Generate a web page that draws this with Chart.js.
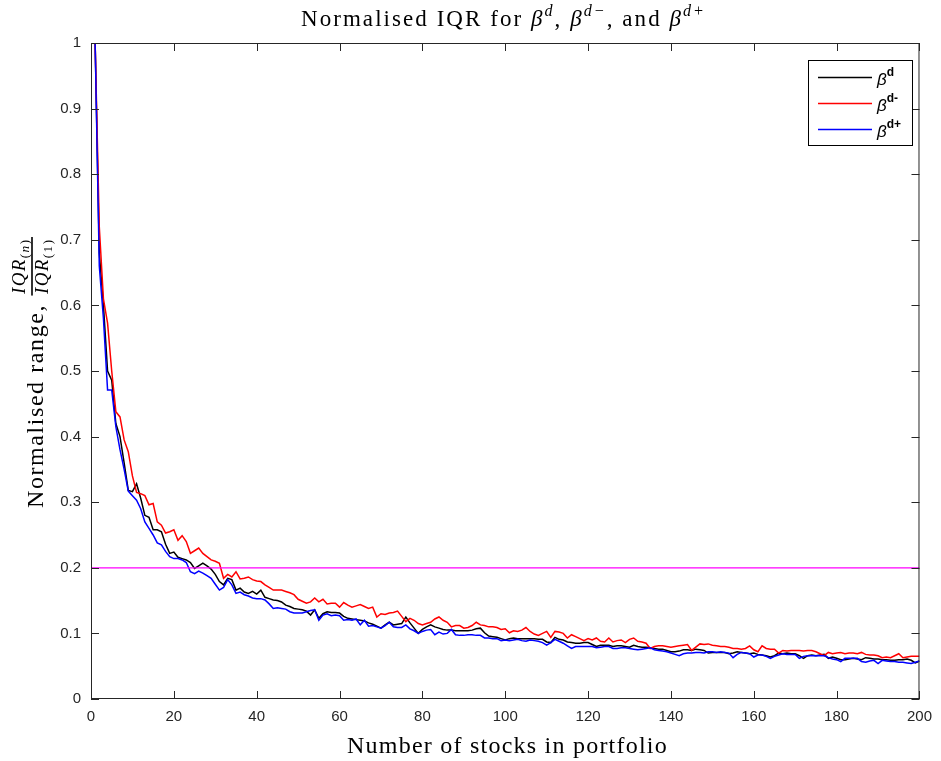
<!DOCTYPE html>
<html lang="en">
<head>
    <meta charset="UTF-8">
    <title>Normalised IQR</title>
    <script src="https://cdn.jsdelivr.net/npm/chart.js"></script>
    <style>
        html, body { margin: 0; padding: 0; background: #fff; }
        #wrap { width: 941px; height: 761px; }
    </style>
</head>
<body>
    <div id="wrap"><canvas id="iqrChart" width="941" height="761"></canvas></div>

    <script>
        // number of stocks in portfolio (x categories)
        const nStocks = Array.from({ length: 200 }, (_, i) => i + 1);

        // normalised IQR, beta^d (black)
        const betaD = [
            1.000,0.680,0.600,0.500,0.486,0.420,0.400,0.360,0.318,0.316,
            0.328,0.306,0.280,0.277,0.258,0.258,0.255,0.236,0.222,0.224,
            0.216,0.214,0.212,0.208,0.199,0.203,0.207,0.203,0.198,0.190,
            0.179,0.174,0.184,0.182,0.166,0.169,0.163,0.161,0.164,0.160,
            0.166,0.155,0.153,0.151,0.150,0.148,0.143,0.141,0.138,0.137,
            0.136,0.134,0.128,0.136,0.123,0.130,0.133,0.132,0.132,0.131,
            0.126,0.123,0.122,0.121,0.120,0.119,0.116,0.114,0.111,0.108,
            0.113,0.117,0.113,0.114,0.115,0.125,0.116,0.108,0.100,0.106,
            0.110,0.113,0.110,0.108,0.106,0.105,0.105,0.104,0.104,0.104,
            0.104,0.105,0.107,0.108,0.101,0.096,0.095,0.094,0.092,0.090,
            0.092,0.093,0.092,0.092,0.092,0.092,0.092,0.091,0.091,0.087,
            0.086,0.094,0.091,0.090,0.087,0.086,0.085,0.085,0.086,0.086,
            0.083,0.080,0.082,0.082,0.082,0.080,0.081,0.081,0.080,0.079,
            0.082,0.080,0.079,0.079,0.078,0.077,0.076,0.076,0.074,0.072,
            0.072,0.073,0.075,0.075,0.074,0.076,0.075,0.074,0.070,0.071,
            0.071,0.071,0.071,0.069,0.070,0.072,0.071,0.070,0.069,0.070,
            0.068,0.067,0.066,0.064,0.066,0.070,0.069,0.070,0.069,0.069,
            0.066,0.062,0.066,0.067,0.066,0.067,0.068,0.062,0.064,0.062,
            0.060,0.060,0.061,0.062,0.061,0.060,0.063,0.062,0.061,0.061,
            0.060,0.060,0.059,0.059,0.060,0.060,0.061,0.059,0.055,0.058
        ];

        // beta^d- (red)
        const betaDMinus = [
            1.000,0.720,0.610,0.573,0.500,0.438,0.430,0.395,0.377,0.340,
            0.315,0.313,0.310,0.296,0.298,0.270,0.265,0.253,0.255,0.258,
            0.242,0.249,0.240,0.222,0.226,0.230,0.222,0.217,0.212,0.210,
            0.207,0.184,0.190,0.186,0.194,0.183,0.184,0.186,0.182,0.180,
            0.179,0.174,0.170,0.166,0.166,0.166,0.164,0.162,0.159,0.152,
            0.149,0.146,0.148,0.154,0.148,0.152,0.145,0.146,0.146,0.140,
            0.147,0.143,0.140,0.142,0.144,0.141,0.138,0.140,0.125,0.130,
            0.129,0.131,0.132,0.134,0.126,0.118,0.123,0.120,0.115,0.113,
            0.115,0.117,0.122,0.125,0.120,0.117,0.110,0.112,0.112,0.108,
            0.109,0.112,0.117,0.113,0.112,0.110,0.110,0.109,0.106,0.107,
            0.101,0.104,0.103,0.105,0.109,0.103,0.099,0.097,0.100,0.103,
            0.094,0.103,0.102,0.100,0.093,0.098,0.095,0.092,0.089,0.092,
            0.090,0.093,0.088,0.087,0.093,0.087,0.089,0.090,0.086,0.091,
            0.093,0.088,0.087,0.085,0.077,0.080,0.081,0.081,0.080,0.079,
            0.080,0.081,0.082,0.083,0.074,0.079,0.084,0.083,0.084,0.082,
            0.081,0.080,0.080,0.079,0.077,0.077,0.076,0.077,0.081,0.075,
            0.072,0.081,0.077,0.076,0.076,0.070,0.074,0.073,0.074,0.074,
            0.074,0.073,0.074,0.074,0.072,0.069,0.066,0.071,0.069,0.070,
            0.071,0.069,0.070,0.070,0.069,0.071,0.068,0.067,0.067,0.066,
            0.063,0.064,0.063,0.066,0.069,0.063,0.064,0.065,0.065,0.065
        ];

        // beta^d+ (blue)
        const betaDPlus = [
            1.000,0.660,0.580,0.471,0.471,0.415,0.380,0.350,0.317,0.310,
            0.303,0.290,0.270,0.260,0.250,0.238,0.235,0.225,0.217,0.214,
            0.214,0.212,0.208,0.194,0.191,0.195,0.192,0.188,0.184,0.175,
            0.166,0.170,0.182,0.174,0.161,0.163,0.159,0.157,0.154,0.153,
            0.153,0.151,0.145,0.138,0.139,0.138,0.137,0.133,0.131,0.131,
            0.131,0.133,0.135,0.136,0.120,0.128,0.130,0.127,0.128,0.127,
            0.120,0.121,0.120,0.122,0.113,0.120,0.111,0.112,0.110,0.108,
            0.112,0.117,0.110,0.109,0.109,0.113,0.107,0.104,0.100,0.103,
            0.105,0.106,0.098,0.102,0.099,0.100,0.106,0.098,0.097,0.097,
            0.098,0.098,0.097,0.097,0.093,0.093,0.092,0.092,0.089,0.090,
            0.089,0.090,0.091,0.089,0.088,0.090,0.089,0.088,0.086,0.082,
            0.086,0.091,0.088,0.085,0.081,0.077,0.080,0.080,0.080,0.080,
            0.080,0.078,0.079,0.080,0.080,0.077,0.077,0.078,0.078,0.077,
            0.076,0.075,0.076,0.077,0.078,0.075,0.074,0.073,0.072,0.070,
            0.068,0.066,0.069,0.070,0.070,0.071,0.071,0.070,0.072,0.072,
            0.071,0.072,0.071,0.070,0.063,0.068,0.071,0.070,0.069,0.064,
            0.067,0.067,0.065,0.062,0.065,0.067,0.069,0.068,0.068,0.068,
            0.062,0.065,0.066,0.066,0.066,0.066,0.066,0.063,0.061,0.060,
            0.057,0.062,0.062,0.062,0.062,0.057,0.056,0.058,0.059,0.054,
            0.059,0.058,0.057,0.057,0.056,0.056,0.055,0.054,0.056,0.058
        ];

        const threshold = 0.2;
        const xRange = [0, 200];
        const yRange = [0, 1];

        const toPoints = arr => arr.map((v, i) => ({ x: nStocks[i], y: v }));

        const AXIS_COL = '#262626';
        const SERIF = "'Liberation Serif', 'DejaVu Serif', serif";
        const SANS = "'Liberation Sans', Arial, sans-serif";

        // text runs: { t, it, sup, sub }, drawn one after another on a baseline
        function setFont(ctx, r, size) {
            const s = (r.sup || r.sub) ? size * 0.7 : size;
            ctx.font = (r.it ? 'italic ' : '') + s + 'px ' + SERIF;
        }
        function runWidth(ctx, runs, size, ls) {
            let w = 0;
            runs.forEach(r => {
                setFont(ctx, r, size);
                w += ctx.measureText(r.t).width + (ls || 0) * r.t.length;
            });
            return w;
        }
        function drawRuns(ctx, runs, x, y, size, ls) {
            runs.forEach(r => {
                setFont(ctx, r, size);
                let dy = 0;
                if (r.sup) dy = -size * 0.42;
                if (r.sub) dy = size * 0.22;
                if (!ls) {
                    ctx.fillText(r.t, x, y + dy);
                } else {
                    let cx = x;
                    for (const ch of r.t) {
                        ctx.fillText(ch, cx, y + dy);
                        cx += ctx.measureText(ch).width + ls;
                    }
                }
                x += ctx.measureText(r.t).width + (ls || 0) * r.t.length;
            });
            return x;
        }
        // small extra letter spacing so a run list spans the target width
        function spacingFor(ctx, runs, size, target) {
            const n = runs.reduce((a, r) => a + r.t.length, 0);
            return Math.max(0, (target - runWidth(ctx, runs, size, 0)) / n);
        }

        const decorPlugin = {
            id: 'decor',
            afterDraw(chart) {
                const ctx = chart.ctx;
                const a = chart.chartArea;
                const xs = chart.scales.x, ys = chart.scales.y;
                ctx.save();

                // box + inward ticks
                ctx.strokeStyle = AXIS_COL;
                ctx.lineWidth = 1;
                ctx.strokeRect(a.left + 0.5, a.top + 0.5, a.right - a.left - 1, a.bottom - a.top - 1);
                ctx.beginPath();
                xs.ticks.forEach(t => {
                    const px = Math.round(xs.getPixelForValue(t.value)) + 0.5;
                    ctx.moveTo(px, a.bottom); ctx.lineTo(px, a.bottom - 8);
                    ctx.moveTo(px, a.top); ctx.lineTo(px, a.top + 8);
                });
                ys.ticks.forEach(t => {
                    const py = Math.round(ys.getPixelForValue(t.value)) + 0.5;
                    ctx.moveTo(a.left, py); ctx.lineTo(a.left + 8, py);
                    ctx.moveTo(a.right, py); ctx.lineTo(a.right - 8, py);
                });
                ctx.stroke();

                ctx.fillStyle = '#000';
                ctx.textBaseline = 'alphabetic';

                // title
                const title = [
                    { t: 'Normalised IQR for ' },
                    { t: 'β', it: true }, { t: 'd', it: true, sup: true },
                    { t: ', ' },
                    { t: 'β', it: true }, { t: 'd−', it: true, sup: true },
                    { t: ', and ' },
                    { t: 'β', it: true }, { t: 'd+', it: true, sup: true }
                ];
                let ls = spacingFor(ctx, title, 23, 405);
                drawRuns(ctx, title, 301, 26, 23, ls);

                // x label
                const xl = [{ t: 'Number of stocks in portfolio' }];
                ls = spacingFor(ctx, xl, 24, 321);
                drawRuns(ctx, xl, 347, 753, 24, ls);

                // y label (rotated) with fraction
                ctx.save();
                ctx.translate(43, 508);
                ctx.rotate(-Math.PI / 2);
                const yl = [{ t: 'Normalised range,' }];
                ls = spacingFor(ctx, yl, 24, 204);
                drawRuns(ctx, yl, 0, 0, 24, ls);
                const num = [{ t: 'IQR', it: true }, { t: '(', sub: true }, { t: 'n', it: true, sub: true }, { t: ')', sub: true }];
                const den = [{ t: 'IQR', it: true }, { t: '(1)', sub: true }];
                const fsz = 19;
                const fls = 1.4;
                const wNum = runWidth(ctx, num, fsz, fls);
                const wDen = runWidth(ctx, den, fsz, fls);
                const wFrac = Math.max(wNum, wDen) + 3;
                const fx = 271 - wFrac;
                const bar = -11;
                ctx.fillRect(fx, bar - 0.8, wFrac, 1.6);
                drawRuns(ctx, num, fx + (wFrac - wNum) / 2, bar - 7, fsz, fls);
                drawRuns(ctx, den, fx + (wFrac - wDen) / 2, bar + 16, fsz, fls);
                ctx.restore();

                // legend
                const lx = 808, ly = 60, lw = 104, lh = 85;
                ctx.fillStyle = '#fff';
                ctx.fillRect(lx, ly, lw, lh);
                ctx.strokeStyle = '#000';
                ctx.lineWidth = 1;
                ctx.strokeRect(lx + 0.5, ly + 0.5, lw, lh);
                const entries = [
                    { c: '#000000', sup: 'd' },
                    { c: '#ff0000', sup: 'd-' },
                    { c: '#0000ff', sup: 'd+' }
                ];
                entries.forEach((e, i) => {
                    const yy = ly + 17 + i * 26;
                    ctx.strokeStyle = e.c;
                    ctx.lineWidth = 1.5;
                    ctx.beginPath();
                    ctx.moveTo(818, yy + 0.5); ctx.lineTo(872, yy + 0.5);
                    ctx.stroke();
                    ctx.fillStyle = '#000';
                    ctx.font = 'italic 17px ' + SANS;
                    ctx.fillText('β', 877, yy + 8);
                    const bw = ctx.measureText('β').width;
                    ctx.font = 'bold 12px ' + SANS;
                    ctx.fillText(e.sup, 877 + bw, yy - 1);
                });

                ctx.restore();
            }
        };

        const ctx = document.getElementById('iqrChart').getContext('2d');
        const iqrChart = new Chart(ctx, {
            type: 'line',
            data: {
                datasets: [
                    {
                        label: 'threshold',
                        data: [{ x: xRange[0], y: threshold }, { x: xRange[1], y: threshold }],
                        borderColor: '#ff00ff',
                        borderWidth: 1.2,
                        pointRadius: 0,
                        order: 0
                    },
                    {
                        label: 'βd+',
                        data: toPoints(betaDPlus),
                        borderColor: '#0000ff',
                        borderWidth: 1.5,
                        pointRadius: 0,
                        tension: 0,
                        order: 1
                    },
                    {
                        label: 'βd-',
                        data: toPoints(betaDMinus),
                        borderColor: '#ff0000',
                        borderWidth: 1.5,
                        pointRadius: 0,
                        tension: 0,
                        order: 2
                    },
                    {
                        label: 'βd',
                        data: toPoints(betaD),
                        borderColor: '#000000',
                        borderWidth: 1.5,
                        pointRadius: 0,
                        tension: 0,
                        order: 3
                    }
                ]
            },
            options: {
                responsive: false,
                animation: false,
                events: [],
                layout: { padding: { left: 0, top: 43, right: 19, bottom: 0 } },
                plugins: {
                    legend: { display: false },
                    title: { display: false },
                    tooltip: { enabled: false }
                },
                scales: {
                    x: {
                        type: 'linear',
                        min: xRange[0],
                        max: xRange[1],
                        grid: { display: false, drawTicks: false },
                        border: { display: false },
                        ticks: {
                            stepSize: 20,
                            padding: 9,
                            color: AXIS_COL,
                            font: { family: SANS, size: 15 },
                            maxRotation: 0
                        },
                        afterFit(scale) { scale.height = 62; }
                    },
                    y: {
                        min: yRange[0],
                        max: yRange[1],
                        grid: { display: false, drawTicks: false },
                        border: { display: false },
                        ticks: {
                            stepSize: 0.1,
                            padding: 10,
                            color: AXIS_COL,
                            font: { family: SANS, size: 15 },
                            callback: v => String(+v.toFixed(1))
                        },
                        afterFit(scale) { scale.width = 91; }
                    }
                }
            },
            plugins: [decorPlugin]
        });
    </script>
</body>
</html>
